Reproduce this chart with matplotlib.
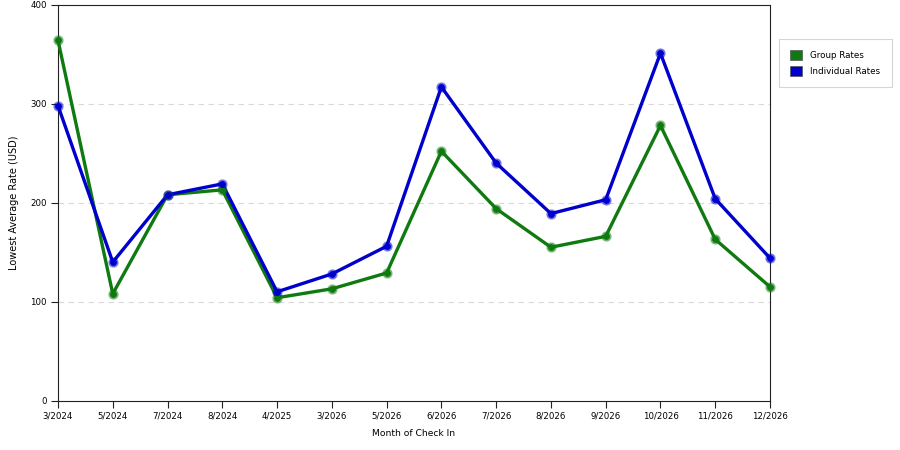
import matplotlib
matplotlib.use('Agg')
import matplotlib.pyplot as plt
from matplotlib.patches import Patch

# data
months = ['3/2024', '5/2024', '7/2024', '8/2024', '4/2025', '3/2026', '5/2026',
          '6/2026', '7/2026', '8/2026', '9/2026', '10/2026', '11/2026', '12/2026']
group_rates = [364, 108, 208, 213, 104, 113, 129, 252, 194, 155, 166, 278, 163, 115]
individual_rates = [298, 140, 208, 219, 110, 128, 156, 317, 240, 189, 203, 351, 204, 144]

green = '#0f7a0f'
blue = '#0000cc'

fig = plt.figure(figsize=(9, 4.5), dpi=100)
ax = fig.add_axes([58 / 900, (450 - 400.7) / 450, (770 - 58) / 900, (400.7 - 4.7) / 450])

x = list(range(len(months)))
for vals, col in [(group_rates, green), (individual_rates, blue)]:
    ax.plot(x, vals, color=col, lw=2.4, zorder=3, clip_on=False)
    ax.plot(x, vals, 'o', ms=6.5, color=col, mec=col, alpha=0.4, zorder=4, clip_on=False)
    ax.plot(x, vals, 'o', ms=4, color=col, zorder=5, clip_on=False)

ax.set_xlim(0, len(months) - 1)
ax.set_ylim(0, 400)
ax.set_xticks(x)
ax.set_xticklabels(months)
ax.set_yticks([0, 100, 200, 300, 400])
ax.tick_params(labelsize=6.2, length=5, width=0.8, color='#222222', pad=3)
for s in ax.spines.values():
    s.set_linewidth(0.8)
    s.set_color('#222222')

for v in [100, 200, 300]:
    ax.axhline(v, color='#d8d8d8', lw=0.8, ls=(0, (5, 4)), zorder=1)

ax.set_xlabel('Month of Check In', fontsize=6.6, labelpad=6)
ax.set_ylabel('Lowest Average Rate (USD)', fontsize=7, labelpad=8)

handles = [Patch(facecolor=green, edgecolor='#555555', lw=0.5, label='Group Rates'),
           Patch(facecolor=blue, edgecolor='#555555', lw=0.5, label='Individual Rates')]
leg = fig.legend(handles=handles, loc='upper left', bbox_to_anchor=(779 / 900, 1 - 39 / 450),
                 fontsize=6.3, frameon=True, fancybox=False, handlelength=1.3, handleheight=1.3,
                 borderpad=1.3, labelspacing=0.7, handletextpad=1.0, borderaxespad=0)
leg.get_frame().set_edgecolor('#cccccc')
leg.get_frame().set_linewidth(0.8)

fig.savefig('out.png', dpi=100)
